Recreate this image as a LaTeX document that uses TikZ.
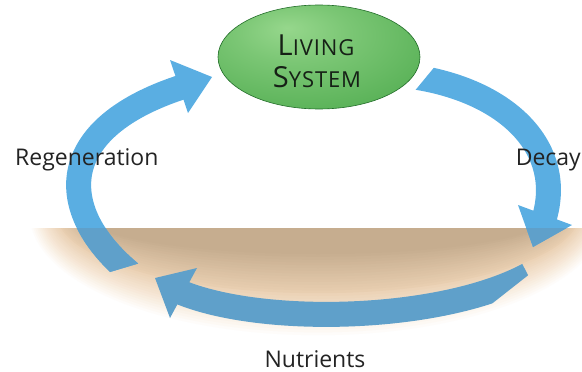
\documentclass[tikz,border=0pt]{standalone}
\usepackage{fontspec}
\setmainfont{Open Sans}
\usetikzlibrary{shapes.geometric}
\definecolor{skyblue}{RGB}{90,174,226}
\definecolor{mutedblue}{RGB}{95,160,202}
\definecolor{soilDark}{RGB}{198,173,143}
\definecolor{soilMid}{RGB}{234,208,178}
\definecolor{soilLight}{RGB}{247,233,217}
\definecolor{gLight}{RGB}{150,215,140}
\definecolor{gMid}{RGB}{90,178,88}
\definecolor{gDark}{RGB}{40,138,50}
\definecolor{gEdge}{RGB}{35,110,42}
\definecolor{txt}{RGB}{35,35,35}
\definecolor{ttl}{RGB}{22,32,22}
\pgfdeclareradialshading{greenshade}{\pgfpoint{-8bp}{14bp}}{color(0bp)=(gLight); color(14bp)=(gLight!55!gMid); color(35bp)=(gMid); color(52bp)=(gDark); color(80bp)=(gDark)}
\newcommand{\capbig}[1]{{\fontsize{29}{30}\selectfont #1}}
\newcommand{\capsmall}[1]{{\fontsize{22}{24}\selectfont #1}}
\tikzset{
  band/.style={line width=25pt, line cap=butt},
  lbl/.style={font=\fontsize{23}{26}\selectfont, text=txt, inner sep=0pt},
  ttlstyle/.style={text=ttl, inner sep=0pt, font=\addfontfeatures{LetterSpace=4}}
}
\begin{document}
\begin{tikzpicture}[x=1pt,y=-1pt]
\useasboundingbox (0,0) rectangle (582,372);
% soil: nested ellipses fading outwards
\begin{scope}
  \clip (0,228) rectangle (582,372);
  \foreach \i in {0,...,39} {
    \pgfmathsetmacro\rx{290-\i*1.8}
    \pgfmathsetmacro\ry{124-\i*2.8}
    \pgfmathsetmacro\a{min(100,\i*14)}
    \pgfmathsetmacro\b{max(0,min(100,(\i-7)*11))}
    \pgfmathsetmacro\c{max(0,min(100,(\i-15)*100/15))}
    \colorlet{tmpA}{soilLight!\a!white}
    \colorlet{tmpB}{soilMid!\b!tmpA}
    \colorlet{tmpC}{soilDark!\c!tmpB}
    \fill[tmpC] (318,214) ellipse [x radius=\rx, y radius=\ry];
  }
\end{scope}
% coordinates
\coordinate (r0) at (135,277);
\coordinate (r1) at (182,87);
\coordinate (d0) at (415,77);
\coordinate (d1) at (544,219);
\coordinate (n0) at (528,275);
\coordinate (n1) at (180,292);
% regeneration arrow
\begin{scope}
  \clip (0,0) -- (582,0) -- (582,130.4) -- (0,305) -- cycle;
  \draw[band, skyblue] (r0) .. controls (56,215) and (50,130) .. (r1);
  \begin{scope}
    \clip (0,228) rectangle (582,372);
    \draw[band, mutedblue] (r0) .. controls (56,215) and (50,130) .. (r1);
  \end{scope}
\end{scope}
\fill[skyblue] (170,60) -- (212,77) -- (188,113) -- cycle;
% decay arrow
\begin{scope}
  \clip (489.7,0) -- (582,0) -- (582,372) -- (183,372) -- cycle;
  \draw[band, skyblue] (d0) .. controls (510,92) and (565,150) .. (d1);
\end{scope}
\fill[skyblue] (518,205) -- (533,247) -- (572,225) -- cycle;
\begin{scope}
  \clip (0,228) rectangle (582,372);
  \fill[mutedblue] (518,205) -- (533,247) -- (572,225) -- cycle;
\end{scope}
% nutrients arrow
\begin{scope}
  \clip (0,0) -- (582,0) -- (582,232.9) -- (405,372) -- (0,372) -- cycle;
  \draw[band, mutedblue] (n0) .. controls (440,322) and (262,326) .. (n1);
\end{scope}
\fill[mutedblue] (197,268) -- (155,278) -- (170,318) -- cycle;
% living system
\node[ellipse, minimum width=202pt, minimum height=104pt, inner sep=0pt,
      shading=greenshade, draw=gEdge, line width=0.6pt] (ls) at (319,57) {};
\node[ttlstyle, anchor=base] (liv) at (316,55) {\capbig{L}\capsmall{IVING}};
\node[ttlstyle, anchor=base] (sys) at (317,87) {\capbig{S}\capsmall{YSTEM}};
% labels
\node[lbl, anchor=base west] (regen) at (15,165) {Regeneration};
\node[lbl, anchor=base east] (decay) at (581,165) {Decay};
\node[lbl, anchor=base] (nutr) at (315,367) {Nutrients};
\end{tikzpicture}
\end{document}
